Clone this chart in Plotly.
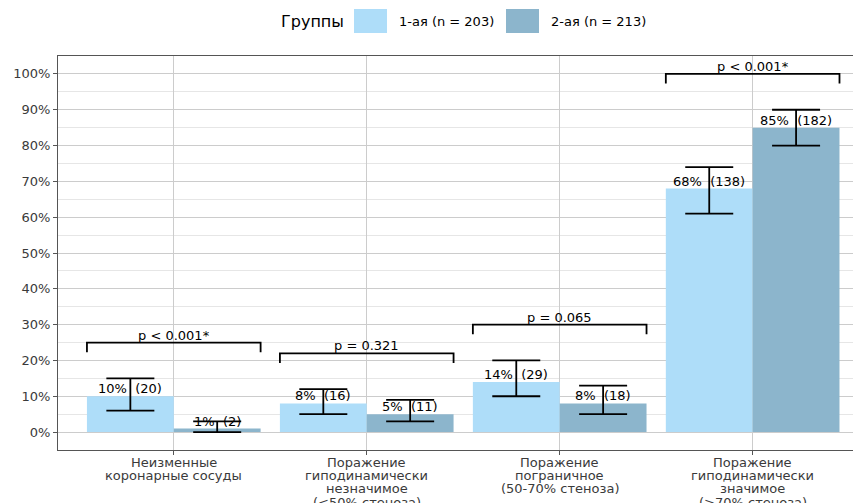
import plotly.graph_objects as go

# Categories of coronary lesion (one entry per line of the axis label)
categories = [
    ["Неизменные", "коронарные сосуды"],
    ["Поражение", "гиподинамически", "незначимое", "(<50% стеноза)"],
    ["Поражение", "пограничное", "(50-70% стеноза)"],
    ["Поражение", "гиподинамически", "значимое", "(>70% стеноза)"],
]
group_names = ["1-ая (n = 203)", "2-ая (n = 213)"]

# Percentages, counts and confidence limits per group
pct_g1 = [10, 8, 14, 68]
cnt_g1 = [20, 16, 29, 138]
lo_g1 = [6, 5, 10, 61]
hi_g1 = [15, 12, 20, 74]

pct_g2 = [1, 5, 8, 85]
cnt_g2 = [2, 11, 18, 182]
lo_g2 = [0, 3, 5, 80]
hi_g2 = [3, 9, 13, 90]

p_values = ["p < 0.001*", "p = 0.321", "p = 0.065", "p < 0.001*"]

y_ticks = [0, 10, 20, 30, 40, 50, 60, 70, 80, 90, 100]
y_tick_text = [f"{v}%" for v in y_ticks]

color_g1 = "#AEDDF9"
color_g2 = "#8CB5CC"
font_family = "DejaVu Sans, Liberation Sans, sans-serif"

W, H = 853, 503
ML, MR, MT, MB = 58, 0, 56, 53
PW, PH = W - ML - MR, H - MT - MB


def px_x(px):
    """Canvas pixel x -> paper fraction."""
    return (px - ML) / PW


def px_y(py):
    """Canvas pixel y -> paper fraction."""
    return (H - MB - py) / PH


xs = list(range(len(categories)))

fig = go.Figure()
series = [
    (pct_g1, cnt_g1, lo_g1, hi_g1, color_g1, group_names[0], -0.225),
    (pct_g2, cnt_g2, lo_g2, hi_g2, color_g2, group_names[1], 0.225),
]
for pct, cnt, lo, hi, col, name, off in series:
    fig.add_trace(go.Bar(
        x=xs, y=pct, name=name, marker=dict(color=col, line=dict(width=0)),
        error_y=dict(type="data", symmetric=False,
                     array=[h - p for h, p in zip(hi, pct)],
                     arrayminus=[p - l for p, l in zip(pct, lo)],
                     color="black", thickness=1.8, width=24),
        showlegend=False,
    ))
    for i, (p, c) in enumerate(zip(pct, cnt)):
        fig.add_annotation(x=i + off, y=p, text=f"{p}%  ({c})", showarrow=False,
                           yanchor="bottom", yshift=-2,
                           font=dict(size=13, color="black", family=font_family))

# Significance brackets above each pair of bars
for i, ptxt in enumerate(p_values):
    top = max(hi_g1[i], hi_g2[i]) + 10
    x0, x1 = i - 0.45, i + 0.45
    fig.add_shape(type="path",
                  path=f"M {x0},{top - 2.7} L {x0},{top} L {x1},{top} L {x1},{top - 2.7}",
                  line=dict(color="black", width=1.8), xref="x", yref="y")
    fig.add_annotation(x=i, y=top, text=ptxt, showarrow=False, yanchor="bottom",
                       yshift=-2, font=dict(size=13, color="black", family=font_family))

# Category labels under the axis, tightly spaced lines
for i, lines in enumerate(categories):
    for k, line in enumerate(lines):
        fig.add_annotation(x=i, y=0, xref="x", yref="paper", text=line,
                           showarrow=False, yanchor="middle", xanchor="center",
                           yshift=-(12 + 13.4 * k),
                           font=dict(size=13, color="#3A3A3A", family=font_family))

# Legend drawn at the top
fig.add_annotation(x=px_x(279), y=px_y(21), xref="paper", yref="paper",
                   text="Группы", showarrow=False, xanchor="left", yanchor="middle",
                   font=dict(size=16, color="black", family=font_family))
for x0, col, name in [(354, color_g1, group_names[0]), (506, color_g2, group_names[1])]:
    fig.add_shape(type="rect", xref="paper", yref="paper",
                  x0=px_x(x0), x1=px_x(x0 + 33), y0=px_y(33), y1=px_y(9),
                  fillcolor=col, line=dict(width=0))
    fig.add_annotation(x=px_x(x0 + 43), y=px_y(21), xref="paper", yref="paper",
                       text=name, showarrow=False, xanchor="left", yanchor="middle",
                       font=dict(size=13, color="black", family=font_family))

fig.update_layout(
    width=W, height=H,
    margin=dict(l=ML, r=MR, t=MT, b=MB, autoexpand=False),
    paper_bgcolor="white", plot_bgcolor="white",
    barmode="group", bargap=0.1, bargroupgap=0,
    font=dict(family=font_family, color="#3A3A3A", size=13),
    xaxis=dict(
        tickmode="array", tickvals=xs, showticklabels=False, automargin=False,
        range=[-0.6, 3.52], showgrid=True, gridcolor="#CCCCCC", gridwidth=1,
        showline=True, linecolor="#555555", linewidth=1.2, mirror=True,
        ticks="outside", ticklen=4, tickcolor="#555555", zeroline=False,
    ),
    yaxis=dict(
        tickmode="array", tickvals=y_ticks, ticktext=y_tick_text, automargin=False,
        range=[-5, 105], showgrid=True, gridcolor="#CCCCCC", gridwidth=1,
        minor=dict(dtick=5, tick0=5, showgrid=True, gridcolor="#E6E6E6", gridwidth=1),
        showline=True, linecolor="#555555", linewidth=1.2, mirror=True,
        ticks="outside", ticklen=4, tickcolor="#555555",
        tickfont=dict(size=13, color="#3A3A3A"), zeroline=False,
    ),
)

fig.write_html("out.html")
